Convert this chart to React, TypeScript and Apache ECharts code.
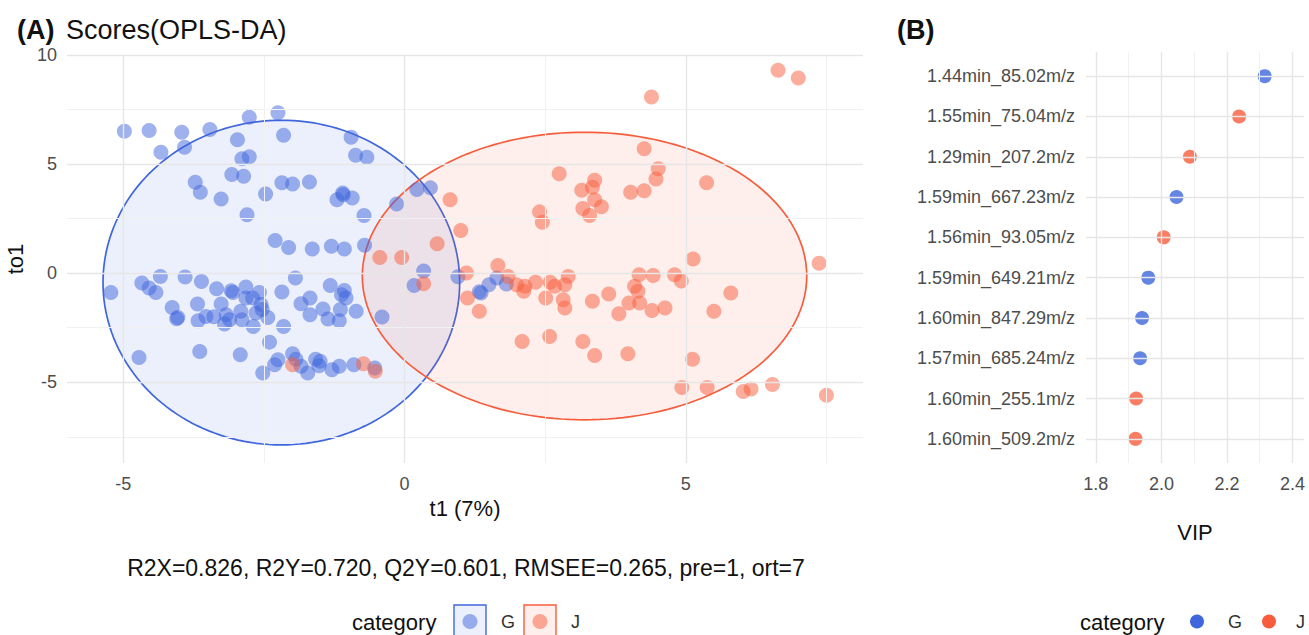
import React, { useEffect, useRef } from "react";
import * as echarts from "echarts";

// ---------- Panel A data: OPLS-DA scores (t1, to1) ----------
const G_SCORES: [number, number][] = [
  [-4.98, 6.5], [-4.54, 6.54], [-3.96, 6.46], [-3.46, 6.58], [-2.76, 7.15], [-2.25, 7.35],
  [-4.33, 5.54], [-3.91, 5.77], [-2.97, 6.12], [-2.15, 6.32], [-0.95, 6.23], [-2.89, 5.25],
  [-2.76, 5.34], [-0.87, 5.4], [-0.67, 5.31], [-3.72, 4.17], [-3.63, 3.71], [-3.26, 3.4],
  [-3.07, 4.52], [-2.86, 4.44], [-2.47, 3.63], [-2.8, 2.68], [-2.18, 4.14], [-1.99, 4.09],
  [-1.69, 4.18], [-1.2, 3.37], [-1.09, 3.6], [-0.93, 3.45], [-1.1, 3.68], [-0.72, 2.64],
  [-0.14, 3.17], [0.22, 3.83], [0.46, 3.91], [-2.3, 1.5], [-2.06, 1.18], [-1.64, 1.11],
  [-1.3, 1.23], [-1.07, 1.11], [-0.71, 1.28],
  [-5.22, -0.88], [-4.67, -0.45], [-4.34, -0.15], [-4.54, -0.68], [-4.42, -0.88], [-3.9, -0.17],
  [-3.61, -0.38], [-3.34, -0.71], [-3.05, -0.88], [-3.08, -0.8], [-2.82, -0.63], [-2.58, -0.88],
  [-2.82, -1.14], [-2.7, -1.14], [-2.18, -0.86], [-1.94, -0.22], [-1.32, -0.57], [-1.07, -0.79],
  [-1.12, -0.99], [-1.04, -1.14], [-1.84, -1.4], [-1.68, -1.14], [-1.68, -1.9], [-1.45, -1.64],
  [-1.36, -2.1], [-1.14, -1.67], [-1.16, -2.18], [-0.86, -1.75], [-0.4, -2.01],
  [-4.13, -1.57], [-4.03, -2.03], [-4.05, -2.09], [-3.68, -1.41], [-3.67, -2.18], [-3.26, -1.41],
  [-3.53, -1.98], [-3.39, -2.0], [-3.17, -1.9], [-3.2, -2.33], [-3.11, -2.13], [-2.91, -1.75],
  [-2.89, -2.13], [-2.64, -1.83], [-2.55, -1.44], [-2.53, -1.67], [-2.43, -2.03], [-2.69, -2.44],
  [-2.4, -3.16], [-2.15, -2.44],
  [-4.72, -3.86], [-3.64, -3.59], [-2.92, -3.74], [-2.52, -4.58], [-2.31, -4.2], [-2.25, -3.97],
  [-1.99, -3.69], [-1.93, -3.94], [-1.84, -4.27], [-1.72, -4.58], [-1.58, -3.94], [-1.5, -4.04],
  [-1.52, -4.24], [-1.29, -4.43], [-1.16, -4.27], [-0.9, -4.2], [-0.53, -4.35],
  [0.34, 0.1], [0.17, -0.57], [0.95, -0.16], [1.36, -0.91], [1.33, -0.85], [1.5, -0.53],
  [1.64, -0.22], [1.81, -0.5],
];

const J_SCORES: [number, number][] = [
  [6.64, 9.3], [7.0, 8.95], [4.39, 8.08], [4.26, 5.7], [4.51, 4.79], [4.47, 4.32], [5.37, 4.14],
  [2.75, 4.56], [3.38, 4.26], [3.34, 3.94], [3.15, 3.8], [4.02, 3.71], [4.26, 3.78], [3.38, 3.37],
  [3.5, 3.04], [3.17, 2.96], [3.29, 2.64], [2.4, 2.81], [2.45, 2.33], [0.81, 3.37], [1.0, 1.96],
  [0.58, 1.35], [5.13, 0.65], [7.37, 0.45], [1.66, 0.35], [1.1, 0.01], [-0.44, 0.72], [-0.05, 0.72],
  [1.12, -1.14], [1.33, -1.75], [1.84, -0.15], [1.99, -0.53], [2.14, -0.6], [2.12, -0.83],
  [2.33, -0.42], [2.59, -0.42], [2.67, -0.6], [2.91, -0.15], [2.85, -0.53], [2.51, -1.14],
  [2.82, -1.22], [2.85, -1.6], [3.34, -1.29], [3.63, -0.95], [3.81, -1.86], [3.99, -1.37],
  [4.09, -0.6], [4.15, -0.83], [4.17, -0.07], [4.18, -1.37], [4.42, -0.11], [4.4, -1.71],
  [4.63, -1.6], [4.8, -0.07], [4.92, -0.36], [5.5, -1.74], [5.8, -0.91],
  [2.09, -3.13], [2.58, -2.9], [3.17, -3.13], [3.38, -3.77], [3.97, -3.69], [5.12, -3.94],
  [4.93, -5.24], [5.38, -5.24], [6.02, -5.42], [6.16, -5.31], [6.54, -5.1], [7.5, -5.59],
  [0.34, -0.48], [-1.99, -4.2], [-0.73, -4.15], [-0.52, -4.5],
];

// confidence ellipses: [centre t1, centre to1, radius t1, radius to1]
const G_ELLIPSE: number[] = [-2.19, -0.43, 3.17, 7.44];
const J_ELLIPSE: number[] = [3.2, -0.13, 3.95, 6.59];

const A_X_MAJOR = [-5, 0, 5];
const A_X_MINOR = [-2.5, 2.5, 7.5];
const A_Y_MAJOR = [-5, 0, 5, 10];
const A_Y_MINOR = [-7.5, -2.5, 2.5, 7.5];

// ---------- Panel B data: VIP ----------
const FEATURES = [
  "1.44min_85.02m/z",
  "1.55min_75.04m/z",
  "1.29min_207.2m/z",
  "1.59min_667.23m/z",
  "1.56min_93.05m/z",
  "1.59min_649.21m/z",
  "1.60min_847.29m/z",
  "1.57min_685.24m/z",
  "1.60min_255.1m/z",
  "1.60min_509.2m/z",
];
const VIP = [2.315, 2.237, 2.087, 2.046, 2.007, 1.96, 1.941, 1.935, 1.923, 1.921];
const CATEGORY = ["G", "J", "J", "G", "J", "G", "G", "G", "J", "J"];
const B_X_MAJOR = [1.8, 2.0, 2.2, 2.4];
const B_X_MINOR = [1.9, 2.1, 2.3];

const BLUE = "#3F66DC";
const RED = "#F75D3C";
const BLUE_FILL = "rgba(65,105,225,0.10)";
const RED_FILL = "rgba(250,100,70,0.10)";
const FONT = "Liberation Sans, Arial, Helvetica, sans-serif";
const GRID_MAJOR = "#e6e6e6";
const GRID_MINOR = "#f1f1f1";

function gridLines(xs: number[], ys: number[], color: string, width: number) {
  return [
    ...xs.map((v) => ({ xAxis: v, lineStyle: { color, width, type: "solid" } })),
    ...ys.map((v) => ({ yAxis: v, lineStyle: { color, width, type: "solid" } })),
  ];
}

function ellipseRender(fill: string, stroke: string) {
  return (params: any, api: any) => {
    const cx = api.value(0);
    const cy = api.value(1);
    const rx = api.value(2);
    const ry = api.value(3);
    const pts: number[][] = [];
    for (let k = 0; k <= 180; k++) {
      const a = (k / 180) * Math.PI * 2;
      pts.push(api.coord([cx + rx * Math.cos(a), cy + ry * Math.sin(a)]));
    }
    return {
      type: "polygon",
      shape: { points: pts },
      style: { fill, stroke, lineWidth: 1.7 },
    };
  };
}

function buildOption() {
  const bPos = FEATURES.map((_, i) => i + 1);
  const gB = FEATURES.map((_, i) => i).filter((i) => CATEGORY[i] === "G").map((i) => [VIP[i], bPos[i]]);
  const jB = FEATURES.map((_, i) => i).filter((i) => CATEGORY[i] === "J").map((i) => [VIP[i], bPos[i]]);

  const tickLabel = { fontFamily: FONT, fontSize: 18, color: "#4d4d4d" };
  const markBase = { symbol: "none", silent: true, label: { show: false }, emphasis: { disabled: true } };

  return {
    animation: false,
    textStyle: { fontFamily: FONT },
    grid: [
      { left: 67, top: 55, width: 796, height: 408, outerBoundsMode: "none" },
      { left: 1086, top: 52, width: 218, height: 411, outerBoundsMode: "none" },
    ],
    xAxis: [
      {
        gridIndex: 0, type: "value", min: -6.0, max: 8.15,
        axisLine: { show: false }, axisTick: { show: false }, splitLine: { show: false },
        axisLabel: { ...tickLabel, margin: 12, customValues: A_X_MAJOR },
        name: "t1 (7%)", nameLocation: "middle", nameGap: 34,
        nameTextStyle: { fontFamily: FONT, fontSize: 22, color: "#111" },
      },
      {
        gridIndex: 1, type: "value", min: 1.77, max: 2.435,
        axisLine: { show: false }, axisTick: { show: false }, splitLine: { show: false },
        axisLabel: { ...tickLabel, margin: 12, customValues: B_X_MAJOR, formatter: (v: number) => v.toFixed(1) },
        name: "VIP", nameLocation: "middle", nameGap: 58,
        nameTextStyle: { fontFamily: FONT, fontSize: 22, color: "#111" },
      },
    ],
    yAxis: [
      {
        gridIndex: 0, type: "value", min: -8.7, max: 10,
        axisLine: { show: false }, axisTick: { show: false }, splitLine: { show: false },
        axisLabel: { ...tickLabel, margin: 10, customValues: A_Y_MAJOR },
        name: "to1", nameLocation: "middle", nameGap: 33,
        nameTextStyle: { fontFamily: FONT, fontSize: 22, color: "#111" },
      },
      {
        gridIndex: 1, type: "value", min: 0.4, max: 10.6, inverse: true,
        axisLine: { show: false }, axisTick: { show: false }, splitLine: { show: false },
        axisLabel: {
          ...tickLabel, margin: 11, customValues: bPos,
          formatter: (v: number) => FEATURES[Math.round(v) - 1] ?? "",
        },
      },
    ],
    series: [
      {
        type: "scatter", xAxisIndex: 0, yAxisIndex: 0, data: [], z: 0, silent: true,
        markLine: {
          ...markBase,
          data: [
            ...gridLines(A_X_MINOR, A_Y_MINOR, GRID_MINOR, 1),
            ...gridLines(A_X_MAJOR, A_Y_MAJOR, GRID_MAJOR, 1.4),
          ],
        },
      },
      {
        type: "scatter", xAxisIndex: 1, yAxisIndex: 1, data: [], z: 0, silent: true,
        markLine: {
          ...markBase,
          data: [
            ...gridLines(B_X_MINOR, [], GRID_MINOR, 1),
            ...gridLines(B_X_MAJOR, bPos, GRID_MAJOR, 1.4),
          ],
        },
      },
      {
        type: "custom", xAxisIndex: 0, yAxisIndex: 0, z: 1, silent: true,
        renderItem: ellipseRender(BLUE_FILL, BLUE), data: [G_ELLIPSE],
      },
      {
        type: "custom", xAxisIndex: 0, yAxisIndex: 0, z: 1, silent: true,
        renderItem: ellipseRender(RED_FILL, RED), data: [J_ELLIPSE],
      },
      {
        name: "G", type: "scatter", xAxisIndex: 0, yAxisIndex: 0, z: 3, symbolSize: 15,
        itemStyle: { color: BLUE, opacity: 0.5 }, data: G_SCORES,
      },
      {
        name: "J", type: "scatter", xAxisIndex: 0, yAxisIndex: 0, z: 3, symbolSize: 15,
        itemStyle: { color: RED, opacity: 0.5 }, data: J_SCORES,
      },
      {
        name: "G", type: "scatter", xAxisIndex: 1, yAxisIndex: 1, z: 3, symbolSize: 14,
        itemStyle: { color: BLUE }, data: gB,
      },
      {
        name: "J", type: "scatter", xAxisIndex: 1, yAxisIndex: 1, z: 3, symbolSize: 14,
        itemStyle: { color: RED }, data: jB,
      },
    ],
    graphic: [
      { type: "text", left: 17, top: 16, style: { text: "(A)", font: `bold 27px ${FONT}`, fill: "#111" } },
      { type: "text", left: 66, top: 16, style: { text: "Scores(OPLS-DA)", font: `27px ${FONT}`, fill: "#111" } },
      { type: "text", left: 897, top: 16, style: { text: "(B)", font: `bold 27px ${FONT}`, fill: "#111" } },
      {
        type: "text", x: 466, y: 568,
        style: {
          text: "R2X=0.826, R2Y=0.720, Q2Y=0.601, RMSEE=0.265, pre=1, ort=7",
          font: `23px ${FONT}`, fill: "#111", align: "center", verticalAlign: "middle",
        },
      },
      // legend A
      { type: "text", x: 352, y: 622, style: { text: "category", font: `22px ${FONT}`, fill: "#111", verticalAlign: "middle" } },
      { type: "rect", shape: { x: 454, y: 605, width: 32, height: 33 }, style: { fill: BLUE_FILL, stroke: BLUE, lineWidth: 1.4 } },
      { type: "circle", shape: { cx: 470, cy: 621.5, r: 7.5 }, style: { fill: BLUE, opacity: 0.5 } },
      { type: "text", x: 501, y: 622, style: { text: "G", font: `18px ${FONT}`, fill: "#333", verticalAlign: "middle" } },
      { type: "rect", shape: { x: 524, y: 605, width: 32, height: 33 }, style: { fill: RED_FILL, stroke: RED, lineWidth: 1.4 } },
      { type: "circle", shape: { cx: 540, cy: 621.5, r: 7.5 }, style: { fill: RED, opacity: 0.5 } },
      { type: "text", x: 571, y: 622, style: { text: "J", font: `18px ${FONT}`, fill: "#333", verticalAlign: "middle" } },
      // legend B
      { type: "text", x: 1080, y: 622, style: { text: "category", font: `22px ${FONT}`, fill: "#111", verticalAlign: "middle" } },
      { type: "circle", shape: { cx: 1197, cy: 621.5, r: 7 }, style: { fill: BLUE } },
      { type: "text", x: 1228, y: 622, style: { text: "G", font: `18px ${FONT}`, fill: "#333", verticalAlign: "middle" } },
      { type: "circle", shape: { cx: 1269, cy: 621.5, r: 7 }, style: { fill: RED } },
      { type: "text", x: 1296, y: 622, style: { text: "J", font: `18px ${FONT}`, fill: "#333", verticalAlign: "middle" } },
    ],
  };
}

export default function App() {
  const ref = useRef<HTMLDivElement>(null);
  useEffect(() => {
    document.body.style.margin = "0";
    const chart = echarts.init(ref.current!, undefined, { renderer: "svg" });
    chart.setOption(buildOption() as any);
    return () => chart.dispose();
  }, []);
  return <div ref={ref} style={{ width: 1309, height: 635, background: "#fff" }} />;
}
